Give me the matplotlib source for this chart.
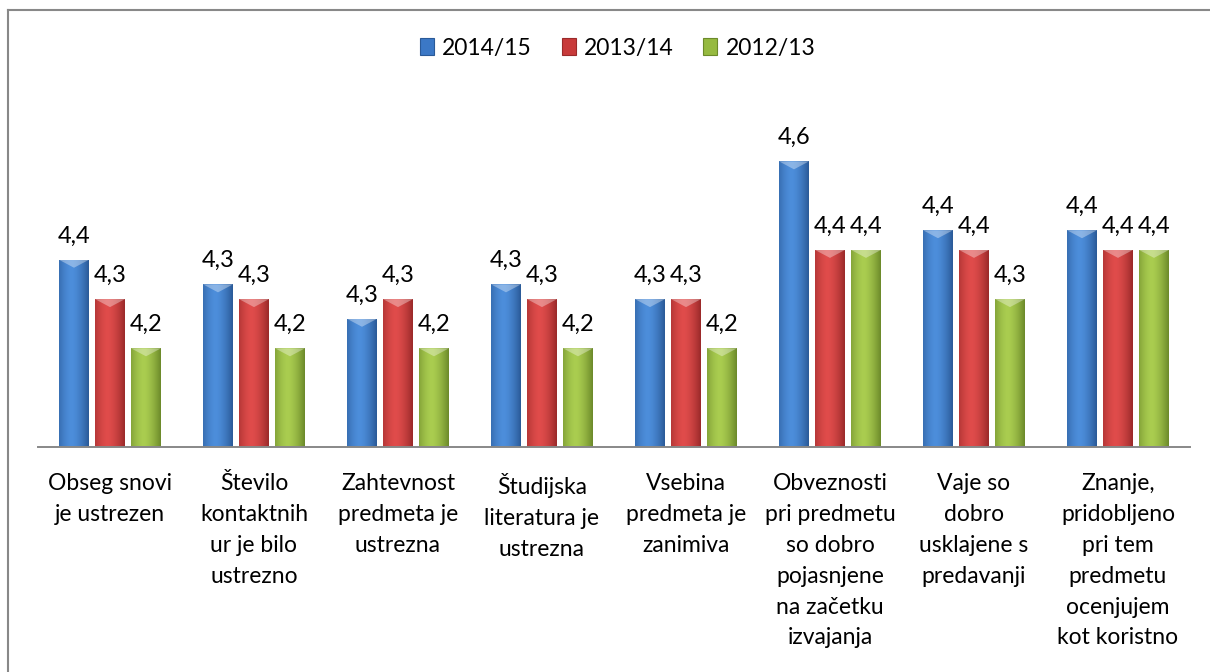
import numpy as np
import matplotlib
matplotlib.use("Agg")
import matplotlib.pyplot as plt
from matplotlib.patches import Patch, Polygon
from matplotlib.lines import Line2D
from matplotlib.colors import to_rgb

plt.rcParams['font.family'] = ['Lato', 'DejaVu Sans']

categories = [
    "Obseg snovi\nje ustrezen",
    "Število\nkontaktnih\nur je bilo\nustrezno",
    "Zahtevnost\npredmeta je\nustrezna",
    "Študijska\nliteratura je\nustrezna",
    "Vsebina\npredmeta je\nzanimiva",
    "Obveznosti\npri predmetu\nso dobro\npojasnjene\nna začetku\nizvajanja",
    "Vaje so\ndobro\nusklajene s\npredavanji",
    "Znanje,\npridobljeno\npri tem\npredmetu\nocenjujem\nkot koristno",
]
series_names = ["2014/15", "2013/14", "2012/13"]
v_2014_15 = [4.38, 4.33, 4.26, 4.33, 4.30, 4.58, 4.44, 4.44]
v_2013_14 = [4.30, 4.30, 4.30, 4.30, 4.30, 4.40, 4.40, 4.40]
v_2012_13 = [4.20, 4.20, 4.20, 4.20, 4.20, 4.40, 4.30, 4.40]
series_values = [v_2014_15, v_2013_14, v_2012_13]

# (dark edge, light centre, base) colours
palette = [
    ("#2A5A98", "#4D8EDB", "#3B78C6"),
    ("#9A2A2A", "#E04C4B", "#C83A3A"),
    ("#6C8A2A", "#AACD50", "#96BA40"),
]

W, H = 1210, 672
fig = plt.figure(figsize=(W / 100, H / 100), dpi=100)
fig.patch.set_facecolor("white")

base_px = 446.7
ymin, ymax = 4.0, 4.7
px_per_unit = 492.0
top_px = base_px - (ymax - ymin) * px_per_unit
ax_left, ax_right = 38, 1190
ax = fig.add_axes([ax_left / W, (H - base_px) / H,
                   (ax_right - ax_left) / W, (base_px - top_px) / H])
ax.set_facecolor("none")

x = np.arange(len(categories))
bar_w = 30 / 144
step = 36 / 144

def shade(dark, light, n=64):
    d = np.array(to_rgb(dark))
    l = np.array(to_rgb(light))
    t = np.linspace(0, 1, n)
    f = 1 - np.clip(np.abs(t - 0.42) / 0.58, 0, 1) ** 1.6
    row = d[None, :] + (l - d)[None, :] * f[:, None]
    return row[None, :, :]

tri_h = 8 / px_per_unit
for si, (vals, cols) in enumerate(zip(series_values, palette)):
    bars = ax.bar(x + (si - 1) * step, np.array(vals) - ymin, bar_w, bottom=ymin,
                  color=cols[2], edgecolor="none", zorder=2)
    grad = shade(cols[0], cols[1])
    for b, v in zip(bars, vals):
        x0, w, h = b.get_x(), b.get_width(), b.get_height()
        im = ax.imshow(grad, extent=[x0, x0 + w, ymin, ymin + h], aspect="auto",
                       zorder=3, interpolation="bilinear")
        im.set_clip_path(b)
        top = ymin + h
        tri = Polygon([[x0, top], [x0 + w, top], [x0 + w / 2, top - tri_h]],
                      closed=True, facecolor="white", alpha=0.35, edgecolor="none",
                      zorder=4)
        ax.add_patch(tri)
        ax.annotate(f"{v:.1f}".replace(".", ","), (x0 + w / 2, top),
                    xytext=(0, 12.5), textcoords="offset points",
                    ha="center", va="baseline", fontsize=17, color="black",
                    zorder=5)

ax.set_xlim(-0.5, len(categories) - 0.5)
ax.set_ylim(ymin, ymax)
ax.set_yticks([])
for s in ["top", "right", "left"]:
    ax.spines[s].set_visible(False)
ax.spines["bottom"].set_color("#888888")
ax.spines["bottom"].set_linewidth(1.4)
ax.spines["bottom"].set_zorder(6)
ax.set_xticks(x)
ax.set_xticklabels(categories, fontsize=16.5, linespacing=1.58, va="top")
ax.tick_params(axis="x", length=0, pad=19)

handles = [Patch(facecolor=c[2], edgecolor=c[0], linewidth=0.8) for c in palette]
fig.legend(handles, series_names, loc="center", bbox_to_anchor=(617.5 / W, 1 - 48 / H),
           ncol=3, frameon=False, fontsize=16.5, handlelength=0.62, handleheight=0.8,
           handletextpad=0.35, columnspacing=1.3)

# outer frame (top and left visible)
fig.add_artist(Line2D([8 / W, 8 / W], [0, 1 - 10 / H], transform=fig.transFigure,
                      color="#888888", linewidth=1.5))
fig.add_artist(Line2D([8 / W, 1], [1 - 10 / H, 1 - 10 / H], transform=fig.transFigure,
                      color="#888888", linewidth=1.5))

fig.savefig("out.png", dpi=100, facecolor="white")
